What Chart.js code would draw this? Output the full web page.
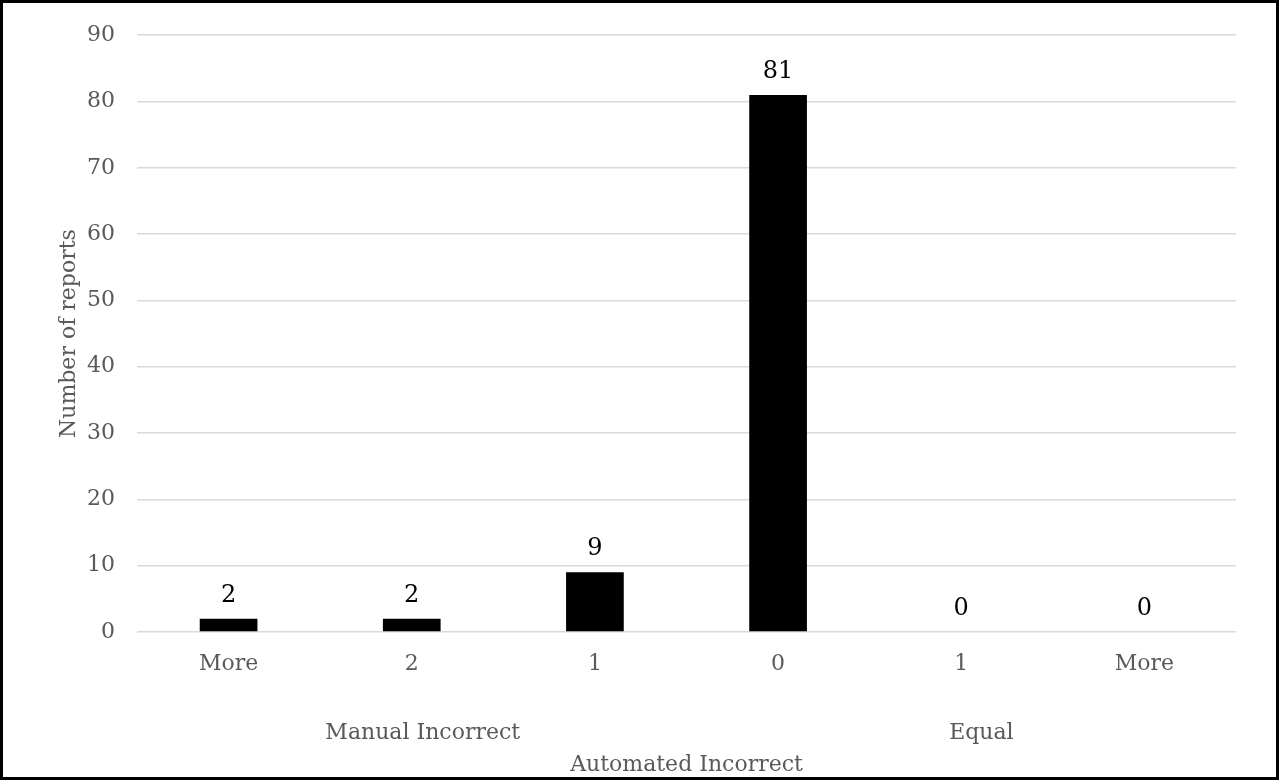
<!DOCTYPE html>
<html>
<head>
<meta charset="utf-8">
<script src="https://cdn.jsdelivr.net/npm/chart.js@4/dist/chart.umd.min.js"></script>
<style>
html,body{margin:0;padding:0;background:#fff;}
canvas{display:block;}
</style>
</head>
<body>
<canvas id="c" width="1279" height="780"></canvas>
<script>
const categories = ["More", "2", "1", "0", "1", "More"];
const reportCounts = [2, 2, 9, 81, 0, 0];
const groupLabels = ["Manual Incorrect", "Equal"];
const groupCenters = [1.06, 4.11]; // category index at which each group label sits
const xAxisTitle = "Automated Incorrect";
const yAxisTitle = "Number of reports";
const yMin = 0, yMax = 90, yStep = 10;

const FONT = "'DejaVu Serif', 'Liberation Serif', serif";
const FS = 22;
const GREY = "#595959";

const framePlugin = {
  id: 'frame',
  beforeDraw(chart) {
    const ctx = chart.ctx;
    ctx.save();
    ctx.fillStyle = '#fff';
    ctx.fillRect(0, 0, chart.width, chart.height);
    ctx.restore();
  },
  afterDraw(chart) {
    const ctx = chart.ctx;
    ctx.save();
    ctx.strokeStyle = '#000';
    ctx.lineWidth = 3;
    ctx.strokeRect(1.5, 1.5, chart.width - 3, chart.height - 3);
    const xs = chart.scales.x;
    const pix = v => {
      const i = Math.floor(v), f = v - i;
      const a = xs.getPixelForValue(i);
      const b = xs.getPixelForValue(Math.min(i + 1, categories.length - 1));
      return a + (b - a) * f;
    };
    ctx.fillStyle = GREY;
    ctx.font = FS + "px " + FONT;
    ctx.textAlign = 'center';
    ctx.textBaseline = 'alphabetic';
    groupLabels.forEach((g, i) => ctx.fillText(g, pix(groupCenters[i]), 739));
    const ca = chart.chartArea;
    ctx.fillText(xAxisTitle, (ca.left + ca.right) / 2, 771);
    ctx.restore();
  }
};

const valueLabels = {
  id: 'valueLabels',
  afterDatasetsDraw(chart) {
    const ctx = chart.ctx;
    const meta = chart.getDatasetMeta(0);
    ctx.save();
    ctx.fillStyle = '#000';
    ctx.font = "24px " + FONT;
    ctx.textAlign = 'center';
    ctx.textBaseline = 'alphabetic';
    meta.data.forEach((bar, i) => {
      ctx.fillText(String(reportCounts[i]), bar.x, bar.y - 17);
    });
    ctx.restore();
  }
};

new Chart(document.getElementById('c'), {
  type: 'bar',
  data: {
    labels: categories,
    datasets: [{
      data: reportCounts,
      backgroundColor: '#000',
      borderWidth: 0,
      categoryPercentage: 1,
      barPercentage: 0.315
    }]
  },
  options: {
    responsive: false,
    animation: false,
    layout: { padding: { left: 52, top: 34, right: 43, bottom: 0 } },
    plugins: { legend: { display: false }, tooltip: { enabled: false } },
    scales: {
      x: {
        grid: { display: false, drawTicks: false },
        border: { display: false },
        ticks: { color: GREY, font: { family: FONT, size: FS }, padding: 19, maxRotation: 0 },
        afterFit(s) { s.height = 148; }
      },
      y: {
        min: yMin, max: yMax,
        ticks: { stepSize: yStep, color: GREY, font: { family: FONT, size: FS }, padding: 22 },
        grid: { color: '#d9d9d9', lineWidth: 1.5, drawTicks: false },
        border: { display: false },
        title: { display: true, text: yAxisTitle, color: GREY, font: { family: FONT, size: FS } },
        afterFit(s) { s.width = 85; }
      }
    }
  },
  plugins: [framePlugin, valueLabels]
});
</script>
</body>
</html>
